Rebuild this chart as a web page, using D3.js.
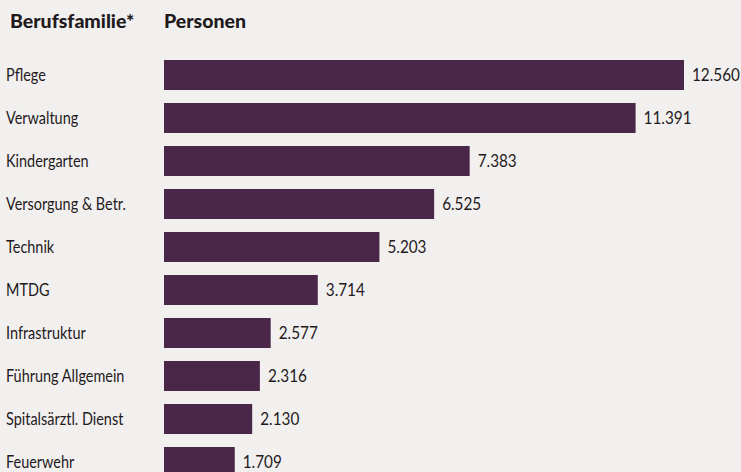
<!DOCTYPE html>
<html>
<head>
<meta charset="utf-8">
<script src="https://cdn.jsdelivr.net/npm/d3@7"></script>
<style>
  html, body { margin: 0; padding: 0; background: #f2f0ef; }
  svg { display: block; }
  text { font-family: "Lato", "Noto Sans", sans-serif; fill: #1f1a1c; }
</style>
</head>
<body>
<script>
// Beschäftigte nach Berufsfamilie
const categories = ["Pflege", "Verwaltung", "Kindergarten", "Versorgung & Betr.", "Technik",
  "MTDG", "Infrastruktur", "Führung Allgemein", "Spitalsärztl. Dienst", "Feuerwehr"];
const persons = [12560, 11391, 7383, 6525, 5203, 3714, 2577, 2316, 2130, 1709];
const headers = ["Berufsfamilie*", "Personen"];

const W = 741, H = 472;
const barLeft = 164;
// narrow look for the labels (Lato squeezed horizontally)
const labelSqueeze = 0.85, numberSqueeze = 0.9, headSqueeze = 1.0;

const svg = d3.select("body").append("svg").attr("width", W).attr("height", H);
svg.append("rect").attr("width", W).attr("height", H).attr("fill", "#f2f0ef");

const de = d3.formatLocale({ decimal: ",", thousands: ".", grouping: [3], currency: ["", " €"] });
const fmt = de.format(",");

const x = d3.scaleLinear().domain([0, 12560]).range([barLeft, 684]);
const y = d3.scaleBand().domain(categories).range([60, 477]).paddingInner(13 / 43).paddingOuter(0);

const data = categories.map((c, i) => ({ cat: c, val: persons[i] }));

function squeezed(sel, px, py, s) {
  return sel.append("text").attr("transform", `translate(${px},${py}) scale(${s},1)`);
}

// column headers
squeezed(svg, 10, 28, headSqueeze).attr("font-size", 19.5).attr("font-weight", 900).text(headers[0]);
squeezed(svg, barLeft, 28, headSqueeze).attr("font-size", 19.5).attr("font-weight", 900).text(headers[1]);

const row = svg.selectAll("g.row").data(data).join("g").attr("class", "row");

row.append("rect")
  .attr("x", x(0))
  .attr("y", d => y(d.cat))
  .attr("width", d => x(d.val) - x(0))
  .attr("height", y.bandwidth())
  .attr("fill", "#4a2748");

row.each(function (d) {
  const g = d3.select(this);
  const cy = y(d.cat) + y.bandwidth() / 2;
  squeezed(g, 6, cy, labelSqueeze)
    .attr("dy", "0.36em").attr("font-size", 17).text(d.cat);
  squeezed(g, x(d.val) + 8, cy, numberSqueeze)
    .attr("dy", "0.36em").attr("font-size", 17).text(fmt(d.val));
});
</script>
</body>
</html>
